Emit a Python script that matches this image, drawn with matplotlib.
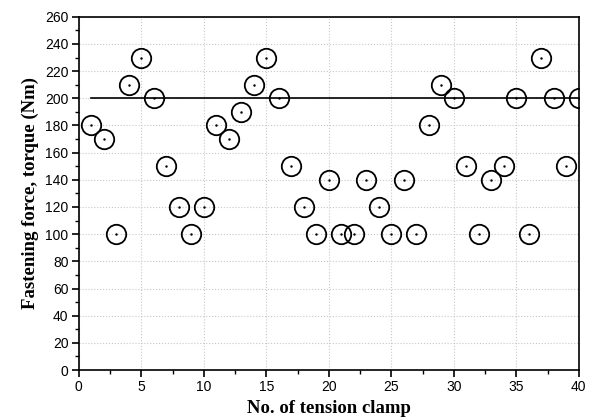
import matplotlib
matplotlib.use("Agg")
import matplotlib.pyplot as plt
from matplotlib.ticker import MultipleLocator

clamp_no = list(range(1, 41))
torque = [180, 170, 100, 210, 230, 200, 150, 120, 100, 120,
          180, 170, 190, 210, 230, 200, 150, 120, 100, 140,
          100, 100, 140, 120, 100, 140, 100, 180, 210, 200,
          150, 100, 140, 150, 200, 100, 230, 200, 150, 200]
target_x = [1, 40]
target_y = [200, 200]

fig = plt.figure(figsize=(5.93, 4.2), dpi=100)
ax = fig.add_axes([0.133, 0.119, 0.843, 0.841])

ax.plot(target_x, target_y, color="black", lw=1.2, zorder=2)
ax.plot(clamp_no, torque, "o", ms=14, mfc="none", mec="black", mew=1.3, zorder=3)
ax.plot(clamp_no, torque, ".", ms=1.5, color="black", zorder=3)

ax.set_xlim(0, 40)
ax.set_ylim(0, 260)
ax.xaxis.set_major_locator(MultipleLocator(5))
ax.xaxis.set_minor_locator(MultipleLocator(2.5))
ax.yaxis.set_major_locator(MultipleLocator(20))
ax.yaxis.set_minor_locator(MultipleLocator(10))
ax.tick_params(which="major", direction="out", length=5, width=1.2, labelsize=10, pad=2.5)
ax.tick_params(which="minor", direction="out", length=3, width=1)
ax.grid(True, which="major", color="#c8c8c8", ls=":", lw=0.8)
for s in ax.spines.values():
    s.set_linewidth(1.2)

for lab in ax.get_xticklabels() + ax.get_yticklabels():
    lab.set_family("Liberation Sans")

ax.set_xlabel("No. of tension clamp", family="Liberation Serif", weight="bold", fontsize=13.5, labelpad=4)
ax.set_ylabel("Fastening force, torque (Nm)", family="Liberation Serif", weight="bold", fontsize=13.5, labelpad=4)

fig.savefig("out.png", dpi=100)
